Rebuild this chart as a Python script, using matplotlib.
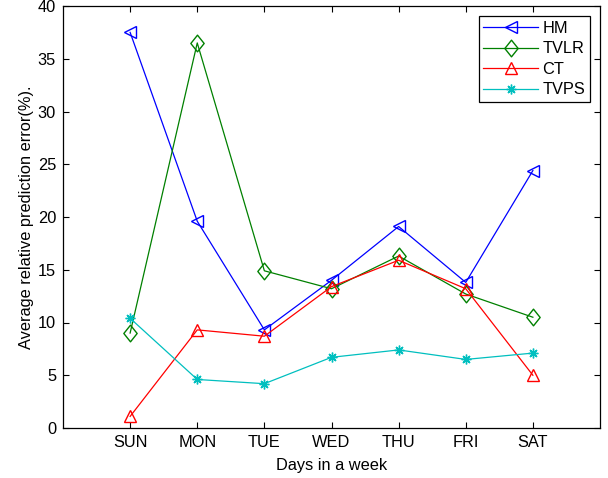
import matplotlib
matplotlib.use("Agg")
import matplotlib.pyplot as plt
from matplotlib.path import Path

days = ["SUN", "MON", "TUE", "WED", "THU", "FRI", "SAT"]
hm = [37.5, 19.6, 9.3, 14.0, 19.1, 13.8, 24.4]
tvlr = [9.0, 36.5, 14.9, 13.2, 16.3, 12.7, 10.5]
ct = [1.1, 9.3, 8.7, 13.4, 15.9, 13.2, 5.0]
tvps = [10.4, 4.6, 4.2, 6.7, 7.4, 6.5, 7.1]

plt.rcParams['font.family'] = ['Liberation Sans', 'DejaVu Sans']
FS = 11.8

diamond = Path([(0, 1), (0.8, 0), (0, -1), (-0.8, 0), (0, 1)],
               [Path.MOVETO, Path.LINETO, Path.LINETO, Path.LINETO, Path.CLOSEPOLY])

fig = plt.figure(figsize=(6.08, 4.78), dpi=100)
ax = fig.add_axes([63/608, 1-428/478, (600-63)/608, (428-6)/478])
x = list(range(1, len(days)+1))
ax.plot(x, hm, color=(0, 0, 1), marker='<', markersize=8.5, markerfacecolor='none', lw=0.9, label='HM')
ax.plot(x, tvlr, color=(0, 0.5, 0), marker=diamond, markersize=12, markerfacecolor='none', lw=0.9, label='TVLR')
ax.plot(x, ct, color=(1, 0, 0), marker='^', markersize=8.5, markerfacecolor='none', lw=0.9, label='CT')
ax.plot(x, tvps, color=(0, 0.75, 0.75), marker=(8, 2, 0), markersize=7, markerfacecolor='none', lw=0.9, label='TVPS')

ax.set_xlim(0, 8)
ax.set_ylim(0, 40)
ax.set_xticks(x)
ax.set_xticklabels(days)
ax.set_yticks(range(0, 41, 5))
ax.tick_params(direction='in', top=True, right=True, labelsize=FS, length=4, pad=5)
for s in ax.spines.values():
    s.set_linewidth(0.9)
ax.set_xlabel('Days in a week', fontsize=FS, labelpad=6)
ax.set_ylabel('Average relative prediction error(%).', fontsize=FS, labelpad=3)
leg = ax.legend(loc='upper right', fontsize=FS, fancybox=False, edgecolor='black',
                framealpha=1, borderaxespad=0.6, handlelength=3.3, labelspacing=0.34,
                borderpad=0.3, handletextpad=0.3)
leg.get_frame().set_linewidth(0.9)
fig.savefig('out.png', dpi=100)
